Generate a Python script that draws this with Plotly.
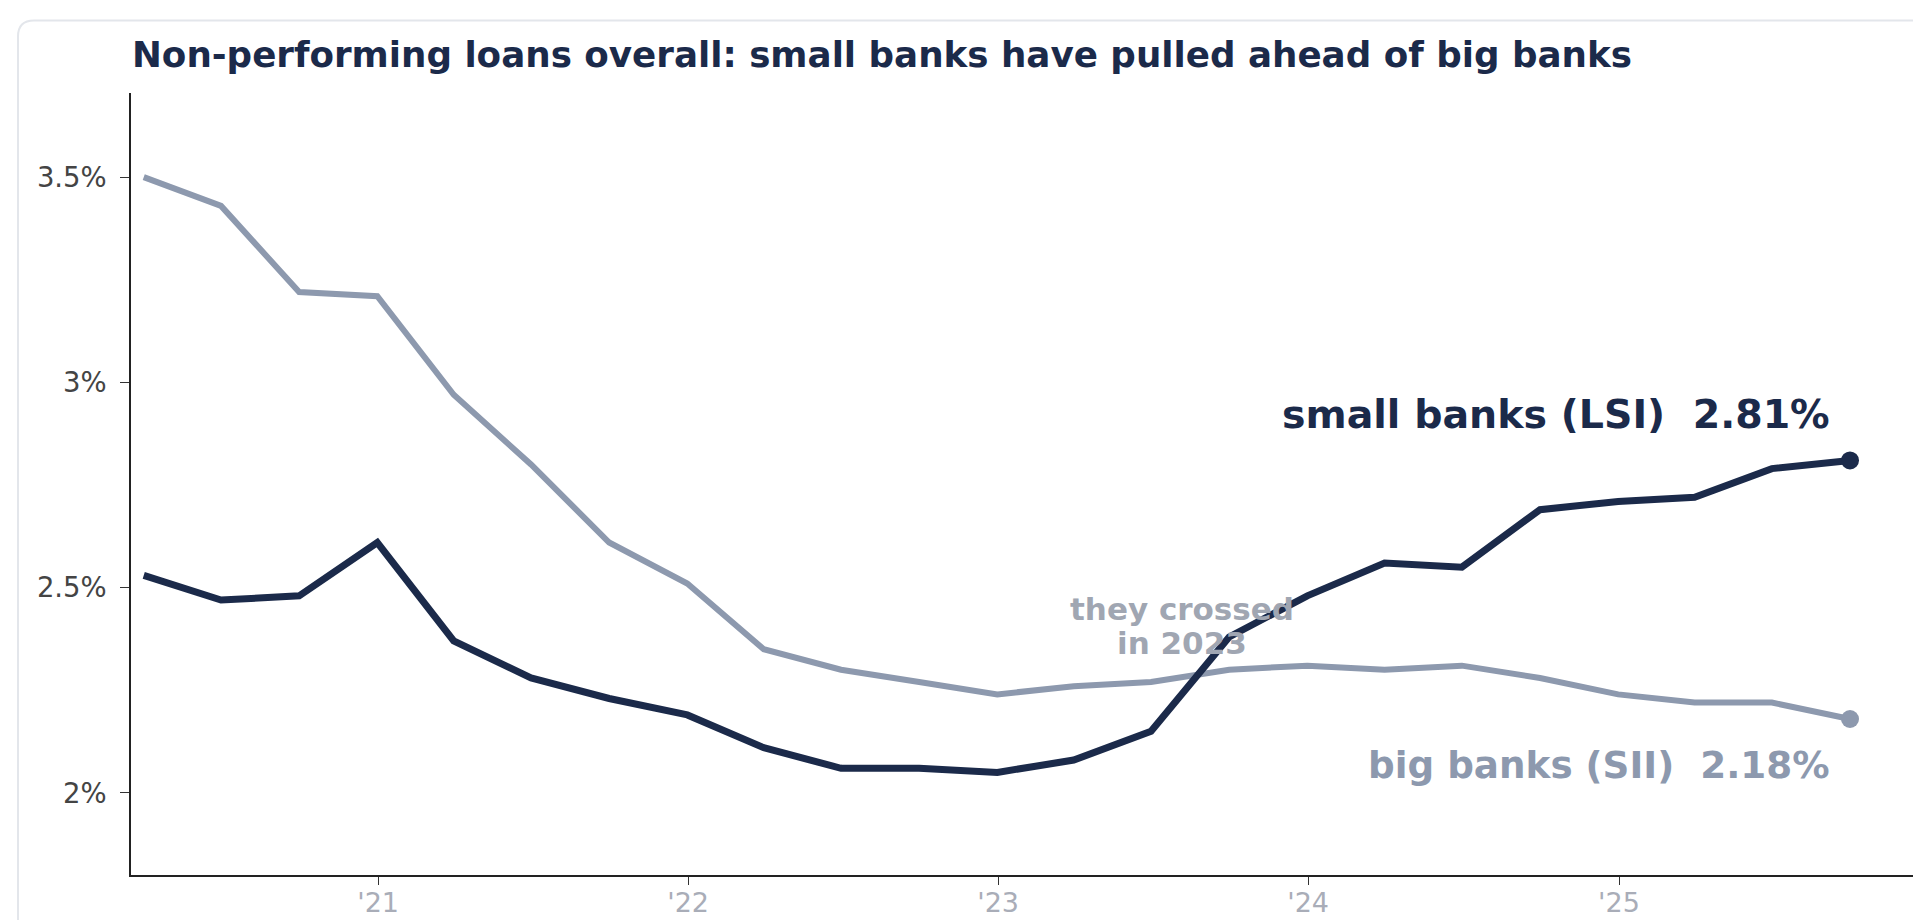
import plotly.graph_objects as go

quarters = ["2020-03-31", "2020-06-30", "2020-09-30", "2020-12-31",
            "2021-03-31", "2021-06-30", "2021-09-30", "2021-12-31",
            "2022-03-31", "2022-06-30", "2022-09-30", "2022-12-31",
            "2023-03-31", "2023-06-30", "2023-09-30", "2023-12-31",
            "2024-03-31", "2024-06-30", "2024-09-30", "2024-12-31",
            "2025-03-31", "2025-06-30", "2025-09-30"]
small_banks_lsi = [2.53, 2.47, 2.48, 2.61, 2.37, 2.28, 2.23, 2.19, 2.11, 2.06, 2.06, 2.05,
                   2.08, 2.15, 2.38, 2.48, 2.56, 2.55, 2.69, 2.71, 2.72, 2.79, 2.81]
big_banks_sii = [3.50, 3.43, 3.22, 3.21, 2.97, 2.80, 2.61, 2.51, 2.35, 2.30, 2.27, 2.24,
                 2.26, 2.27, 2.30, 2.31, 2.30, 2.31, 2.28, 2.24, 2.22, 2.22, 2.18]
y_tick_vals = [2.0, 2.5, 3.0, 3.5]
y_tick_text = ["2%", "2.5%", "3%", "3.5%"]
x_tick_vals = ["2021-01-01", "2022-01-01", "2023-01-01", "2024-01-01", "2025-01-01"]
x_tick_text = ["'21", "'22", "'23", "'24", "'25"]

NAVY = "#1b2a4a"
SLATE = "#8d99ae"
FONT = "DejaVu Sans"

W, H = 1921, 920
L, R, T, B = 123, 0, 85, 53

fig = go.Figure()
fig.add_trace(go.Scatter(x=quarters, y=big_banks_sii, mode="lines",
                         line=dict(color=SLATE, width=6), hoverinfo="skip", showlegend=False))
fig.add_trace(go.Scatter(x=quarters, y=small_banks_lsi, mode="lines",
                         line=dict(color=NAVY, width=7), hoverinfo="skip", showlegend=False))
fig.add_trace(go.Scatter(x=[quarters[-1]], y=[big_banks_sii[-1]], mode="markers",
                         marker=dict(color=SLATE, size=18), hoverinfo="skip", showlegend=False))
fig.add_trace(go.Scatter(x=[quarters[-1]], y=[small_banks_lsi[-1]], mode="markers",
                         marker=dict(color=NAVY, size=18), hoverinfo="skip", showlegend=False))

# card border
pw = W - L - R
ph = H - T - B
def px_x(p):
    return (p - L) / pw
def px_y(p):
    return (H - B - p) / ph
x0, y0 = 10, 12.5
x1, y1 = 1960, 960
rad = 16
rx, ry = rad / pw, rad / ph
path = (f"M {px_x(x0)},{px_y(y1)} L {px_x(x0)},{px_y(y0) - ry} "
        f"Q {px_x(x0)},{px_y(y0)} {px_x(x0) + rx},{px_y(y0)} "
        f"L {px_x(x1)},{px_y(y0)}")
fig.add_shape(type="path", path=path, xref="paper", yref="paper",
              line=dict(color="#e3e6eb", width=2), layer="below")

fig.add_annotation(text="<b>Non-performing loans overall: small banks have pulled ahead of big banks</b>",
                   xref="paper", yref="paper", x=px_x(122), y=px_y(47), xanchor="left", yanchor="middle",
                   showarrow=False, font=dict(family=FONT, size=35.7, color=NAVY))
fig.add_annotation(text=f"<b>small banks (LSI)  {small_banks_lsi[-1]:.2f}%</b>",
                   x=quarters[-1], y=small_banks_lsi[-1], xanchor="right", yanchor="middle",
                   xshift=-18, yshift=46, showarrow=False,
                   font=dict(family=FONT, size=39.5, color=NAVY))
fig.add_annotation(text=f"<b>big banks (SII)  {big_banks_sii[-1]:.2f}%</b>",
                   x=quarters[-1], y=big_banks_sii[-1], xanchor="right", yanchor="middle",
                   xshift=-18, yshift=-46, showarrow=False,
                   font=dict(family=FONT, size=37.3, color=SLATE))
fig.add_annotation(text="<b>they crossed</b>",
                   x="2023-08-05", y=2.448, xanchor="center", yanchor="middle",
                   showarrow=False, font=dict(family=FONT, size=31, color="#a0a6b2"))
fig.add_annotation(text="<b>in 2023</b>",
                   x="2023-08-05", y=2.366, xanchor="center", yanchor="middle",
                   showarrow=False, font=dict(family=FONT, size=31, color="#a0a6b2"))

fig.update_layout(
    width=W, height=H,
    margin=dict(l=L, r=R, t=T, b=B),
    paper_bgcolor="white", plot_bgcolor="white",
    font=dict(family=FONT),
)
fig.update_xaxes(range=["2020-03-16", "2026-01-01"], tickvals=x_tick_vals, ticktext=x_tick_text,
                 showgrid=False, zeroline=False, showline=True, linecolor="#222", linewidth=1.5,
                 ticks="outside", ticklen=8, tickcolor="#333", tickwidth=1, ticklabelstandoff=-5,
                 tickfont=dict(family=FONT, size=27, color="#a9adb8"))
fig.update_yaxes(range=[1.8, 3.705], tickvals=y_tick_vals, ticktext=y_tick_text,
                 showgrid=False, zeroline=False, showline=True, linecolor="#222", linewidth=1.5,
                 ticks="outside", ticklen=9, tickcolor="#333", tickwidth=1, ticklabelstandoff=8,
                 tickfont=dict(family=FONT, size=27.5, color="#444"))

fig.write_html("out.html")
